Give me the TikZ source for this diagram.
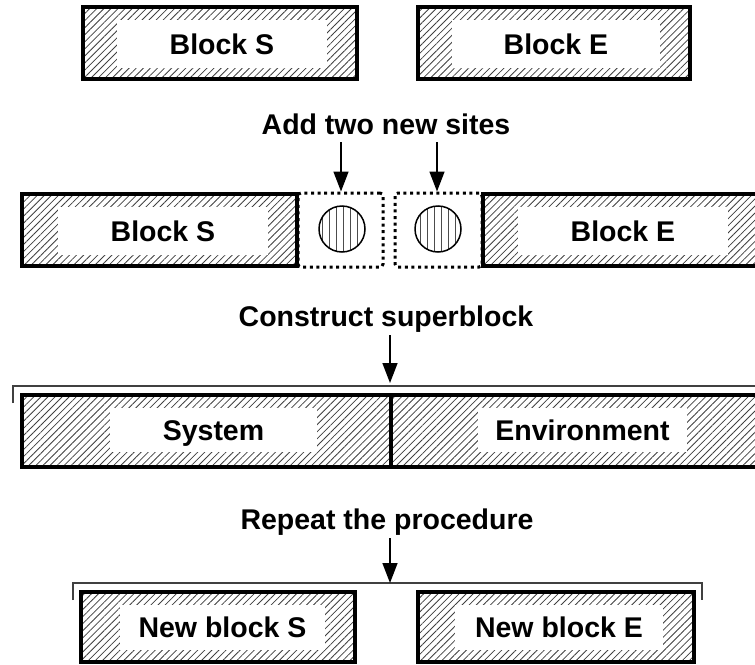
\documentclass[tikz,border=0pt]{standalone}
\usepackage{fontspec}
\setmainfont{Liberation Sans}
\usetikzlibrary{patterns.meta,arrows.meta}
\begin{document}
\begin{tikzpicture}[x=1pt,y=-1pt,
  hatchbox/.style={draw=black,line width=4pt,inner sep=0pt,
    pattern={Lines[angle=45,distance=5pt,line width=0.8pt]},pattern color=black!75},
  dotbox/.style={draw=black,line width=3pt,dash pattern=on 3pt off 3.6pt,rounded corners=3pt,inner sep=0pt},
  site/.style={circle,draw=black,line width=1.5pt,inner sep=0pt,minimum size=46pt,
    pattern={Lines[angle=90,distance=7pt,line width=1pt]},pattern color=black!70},
  lab/.style={fill=white,inner sep=0pt,text height=20.5pt,text depth=0pt,font=\fontsize{28.5}{34}\selectfont\bfseries},
  captext/.style={inner sep=0pt,text height=20.5pt,text depth=0pt,font=\fontsize{28.5}{34}\selectfont\bfseries},
  arr/.style={-{Triangle[length=20pt,width=15pt]},line width=1.5pt},
  bracket/.style={draw=black!75,line width=1.5pt}]
\useasboundingbox[fill=white] (0,0) rectangle (755,664);
% Row 1
\node[hatchbox,minimum width=274pt,minimum height=72pt] (s1) at (220,43) {};
\node[lab,minimum width=210pt,minimum height=48pt] (s1t) at (222,44) {Block S};
\node[hatchbox,minimum width=272pt,minimum height=72pt] (e1) at (554,43) {};
\node[lab,minimum width=208pt,minimum height=48pt] (e1t) at (556,44) {Block E};
\node[captext] (t1) at (386,124) {Add two new sites};
% Row 2
\node[hatchbox,minimum width=275pt,minimum height=72pt] (s2) at (159.5,230) {};
\node[lab,minimum width=210pt,minimum height=48pt] (s2t) at (163,231) {Block S};
\node[dotbox,minimum width=85pt,minimum height=74pt] (d1) at (340.5,230) {};
\node[dotbox,minimum width=87pt,minimum height=74pt] (d2) at (438.5,230) {};
\node[site] (c1) at (342,229) {};
\node[site] (c2) at (438,229) {};
\node[hatchbox,minimum width=275pt,minimum height=72pt] (e2) at (620.5,230) {};
\node[lab,minimum width=210pt,minimum height=48pt] (e2t) at (623,231) {Block E};
\coordinate (a1s) at (341,142);
\coordinate (a2s) at (437,142);
\draw[arr] (a1s) -- (a1s |- d1.north) ;
\draw[arr] (a2s) -- (a2s |- d2.north);
\node[captext] (t2) at (386,316) {Construct superblock};
% Row 3
\coordinate (b3l) at (13,403);
\coordinate (b3r) at (770,386);
\draw[bracket] (b3l) |- (b3r);
\node[hatchbox,minimum width=369pt,minimum height=72pt] (sys) at (206.5,431) {};
\node[hatchbox,minimum width=380pt,minimum height=72pt] (env) at (581,431) {};
\node[lab,minimum width=207pt,minimum height=44pt] (syst) at (213.5,430) {System};
\node[lab,minimum width=209pt,minimum height=44pt] (envt) at (582.5,430) {Environment};
\coordinate (a3s) at (390,335);
\coordinate (a3e) at (390,383);
\draw[arr] (a3s) -- (a3e);
\node[captext] (t3) at (387,519) {Repeat the procedure};
% Row 4
\coordinate (b4l) at (73,600);
\coordinate (b4m) at (390,583);
\coordinate (b4r) at (702,600);
\draw[bracket] (b4l) |- (b4m) -| (b4r);
\coordinate (a4s) at (390,538);
\draw[arr] (a4s) -- (b4m);
\node[hatchbox,minimum width=274pt,minimum height=70pt] (s4) at (218,627) {};
\node[lab,minimum width=205pt,minimum height=45pt] (s4t) at (222.5,627.5) {New block S};
\node[hatchbox,minimum width=276pt,minimum height=70pt] (e4) at (556,627) {};
\node[lab,minimum width=208pt,minimum height=45pt] (e4t) at (559,627.5) {New block E};
\end{tikzpicture}
\end{document}
